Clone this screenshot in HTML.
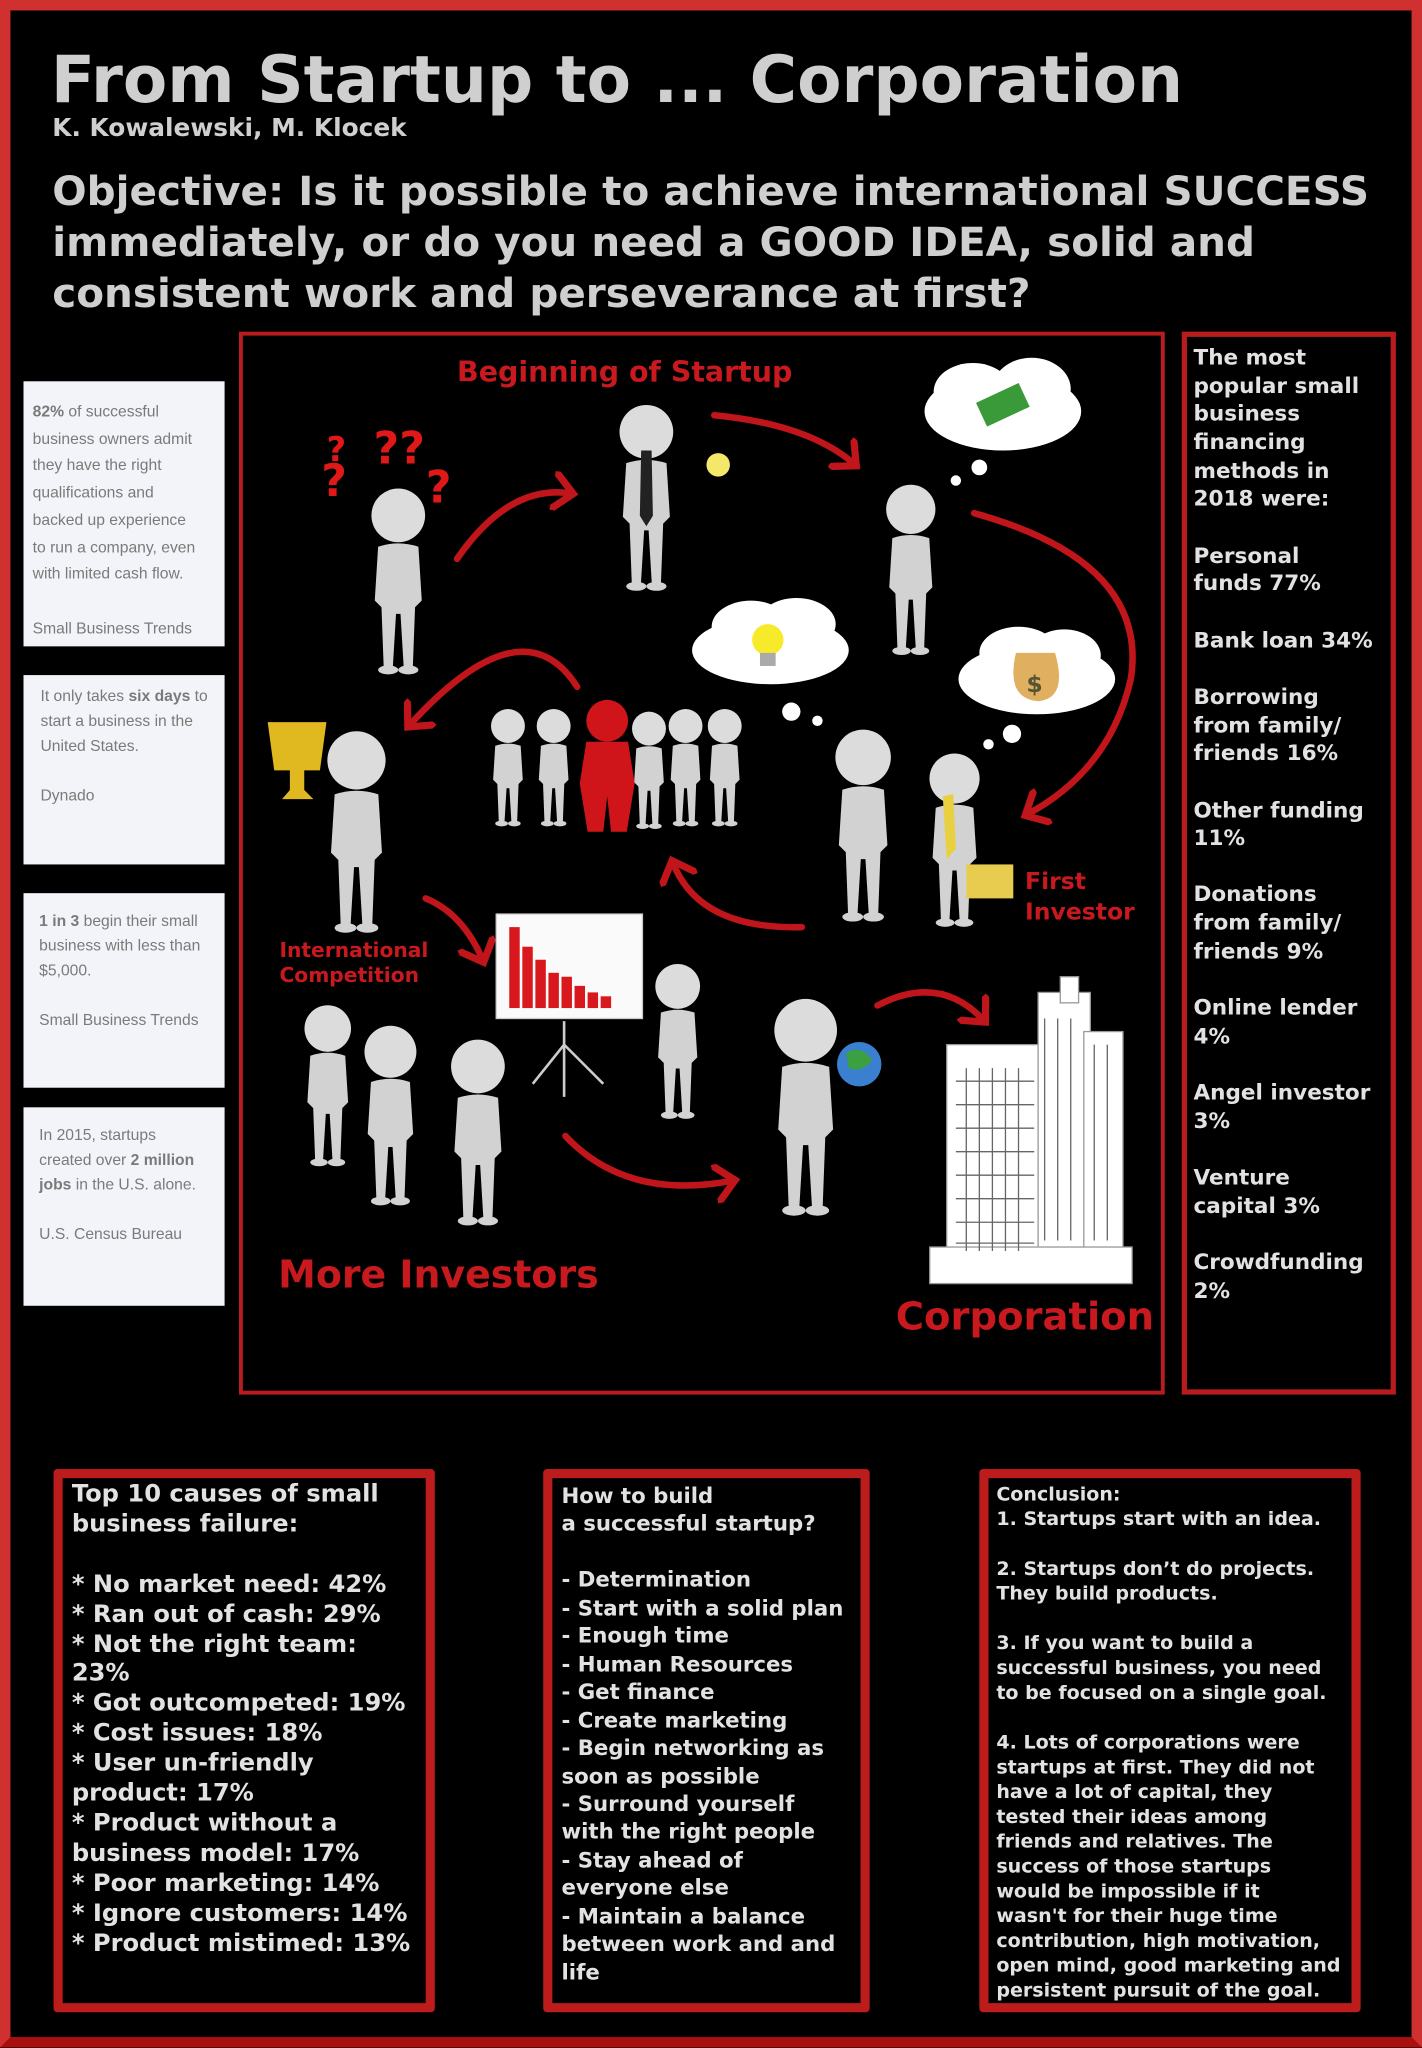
<!DOCTYPE html>
<html><head><meta charset="utf-8"><style>
html,body{margin:0;padding:0;background:#000;}
#w{position:absolute;left:0;top:0;width:1089px;height:1568px;transform:scale(1.30579);transform-origin:0 0;background:#000;overflow:hidden;font-family:"DejaVu Sans","Liberation Sans",sans-serif;}
.a{position:absolute;white-space:pre;}
.bx{position:absolute;box-sizing:border-box;}
.b{font-weight:bold;color:#e2e2e2;}
.card{position:absolute;background:#f3f4f9;}
.card div{position:absolute;white-space:pre;font-family:"Liberation Sans",sans-serif;font-size:12px;color:#7a7a7a;}
</style></head><body><div id="w">
<div class="bx" style="left:0;top:0;width:1089px;height:1568px;border:8px solid #d03030;border-bottom-color:#a80f0f"></div>

<div class="a b" style="left:39px;top:32px;font-size:49.5px;color:#cfcfcf">From Startup to ... Corporation</div>
<div class="a b" style="left:40px;top:87px;font-size:19px;color:#cfcfcf">K. Kowalewski, M. Klocek</div>
<div class="a b" style="left:40px;top:128px;font-size:31px;line-height:39px;color:#cfcfcf">Objective: Is it possible to achieve international SUCCESS
immediately, or do you need a GOOD IDEA, solid and
consistent work and perseverance at first?</div>

<!-- cards -->
<div class="card" style="left:18px;top:292px;width:154px;height:203px">
<div style="left:7px;top:13px;line-height:20.7px"><b>82%</b> of successful
business owners admit
they have the right
qualifications and
backed up experience
to run a company, even
with limited cash flow.

Small Business Trends</div></div>
<div class="card" style="left:18px;top:517px;width:154px;height:145px">
<div style="left:13px;top:7px;line-height:19px">It only takes <b>six days</b> to
start a business in the
United States.

Dynado</div></div>
<div class="card" style="left:18px;top:684px;width:154px;height:149px">
<div style="left:12px;top:12px;line-height:19px"><b>1 in 3</b> begin their small
business with less than
$5,000.

Small Business Trends</div></div>
<div class="card" style="left:18px;top:848px;width:154px;height:152px">
<div style="left:12px;top:12px;line-height:19px">In 2015, startups
created over <b>2 million</b>
<b>jobs</b> in the U.S. alone.

U.S. Census Bureau</div></div>

<!-- diagram -->
<div class="bx" style="left:183px;top:254px;width:709px;height:814px;border:3px solid #b81c1c"></div>
<svg class="a" style="left:0;top:0" width="1089" height="1568" viewBox="0 0 1089 1568">
<defs>
<symbol id="p" viewBox="0 0 70 170" overflow="visible">
<circle cx="35" cy="24" r="24" fill="#dcdcdc"/>
<path d="M17 52 Q35 46 53 52 L56 100 L50 106 L48 160 L40 162 L37 112 L33 112 L30 162 L22 160 L20 106 L14 100 Z" fill="#d2d2d2"/>
<ellipse cx="26" cy="162" rx="9" ry="4" fill="#d2d2d2"/><ellipse cx="44" cy="162" rx="9" ry="4" fill="#d2d2d2"/>
</symbol>
<marker id="ah" markerWidth="6" markerHeight="6" refX="3" refY="3" orient="auto" markerUnits="strokeWidth"><path d="M0,0 L3.2,3 L0,6" fill="none" stroke="#c0151b" stroke-width="1.1"/></marker>
</defs>
<g fill="none" stroke="#c0151b" stroke-width="5" stroke-linecap="round">
<path d="M350 428 Q390 370 438 378" marker-end="url(#ah)"/>
<path d="M547 318 Q620 325 655 356" marker-end="url(#ah)"/>
<path d="M746 393 Q880 430 866 520 Q850 590 786 624" marker-end="url(#ah)"/>
<path d="M614 710 Q535 712 515 660" marker-end="url(#ah)"/>
<path d="M442 526 Q400 460 313 556" marker-end="url(#ah)"/>
<path d="M326 688 Q355 700 370 736" marker-end="url(#ah)"/>
<path d="M433 870 Q480 920 562 904" marker-end="url(#ah)"/>
<path d="M672 770 Q720 745 754 782" marker-end="url(#ah)"/>
</g>
<g font-family="DejaVu Sans" font-weight="bold" fill="#e01818" font-size="34"><text x="246" y="380">?</text><text x="286" y="355">??</text><text x="326" y="385">?</text><text x="250" y="353" font-size="26">?</text></g>
<use href="#p" x="275" y="372" width="60" height="150"/>
<use href="#p" x="465" y="298" width="60" height="170"/>
<path d="M491 345 L499 345 L500 395 L495 403 L490 395 Z" fill="#222"/>
<circle cx="550" cy="356" r="9" fill="#f5e76a"/>
<use href="#p" x="670" y="363" width="55" height="150"/>
<g fill="#fff"><ellipse cx="768" cy="315" rx="60" ry="30"/><ellipse cx="745" cy="300" rx="30" ry="22"/><ellipse cx="790" cy="298" rx="30" ry="24"/><circle cx="750" cy="358" r="6"/><circle cx="732" cy="368" r="4"/>
<ellipse cx="590" cy="498" rx="60" ry="26"/><ellipse cx="575" cy="480" rx="30" ry="20"/><ellipse cx="610" cy="478" rx="30" ry="20"/><circle cx="606" cy="545" r="7"/><circle cx="626" cy="552" r="4"/>
<ellipse cx="794" cy="520" rx="60" ry="27"/><ellipse cx="780" cy="500" rx="30" ry="20"/><ellipse cx="815" cy="502" rx="28" ry="20"/><circle cx="775" cy="562" r="7"/><circle cx="757" cy="570" r="4"/></g>
<rect x="750" y="300" width="36" height="20" fill="#3a9a3a" transform="rotate(-25 768 310)"/>
<circle cx="588" cy="490" r="12" fill="#f7ea2a"/><rect x="582" y="500" width="12" height="10" fill="#aaa"/>
<path d="M778 500 Q770 535 795 537 Q818 535 808 500 Z" fill="#e0b060"/><text x="786" y="530" font-family="DejaVu Sans" font-size="18" font-weight="bold" fill="#553">$</text>
<use href="#p" x="370" y="543" width="38" height="92"/><use href="#p" x="405" y="543" width="38" height="92"/>
<use href="#p" x="478" y="545" width="38" height="92"/><use href="#p" x="506" y="543" width="38" height="92"/><use href="#p" x="536" y="543" width="38" height="92"/>
<g fill="#d0151a"><circle cx="465" cy="552" r="16"/><path d="M449 568 L481 568 L486 600 L480 637 L468 637 L465 610 L462 637 L450 637 L444 600 Z"/></g>
<use href="#p" x="630" y="548" width="62" height="172"/><use href="#p" x="703" y="570" width="56" height="150"/>
<path d="M722 610 L730 608 L732 650 L725 658 Z" fill="#e8d040"/>
<rect x="740" y="662" width="36" height="26" fill="#e8cc50"/>
<use href="#p" x="240" y="560" width="66" height="158"/>
<path d="M205 553 L250 553 L245 590 L210 590 Z M222 590 L233 590 L233 605 L240 612 L216 612 L222 605 Z" fill="#e0b820"/>
<use href="#p" x="225" y="758" width="52" height="150"/><use href="#p" x="270" y="775" width="58" height="162"/><use href="#p" x="336" y="788" width="60" height="162"/>
<rect x="380" y="700" width="112" height="80" fill="#fafafa" stroke="#ccc"/>
<g fill="#d8181c"><rect x="390" y="710" width="8" height="62"/><rect x="400" y="725" width="8" height="47"/><rect x="410" y="735" width="8" height="37"/><rect x="420" y="745" width="8" height="27"/><rect x="430" y="748" width="8" height="24"/><rect x="440" y="755" width="8" height="17"/><rect x="450" y="760" width="8" height="12"/><rect x="460" y="763" width="8" height="9"/></g>
<path d="M432 782 L432 840 M432 800 L408 830 M432 800 L462 830" stroke="#ccc" stroke-width="2"/>
<use href="#p" x="494" y="738" width="50" height="122"/>
<use href="#p" x="582" y="760" width="70" height="180"/>
<circle cx="658" cy="815" r="17" fill="#3a7fd0"/><path d="M648 806 Q660 800 668 812 Q660 822 650 818Z" fill="#3aa040"/>
<g fill="#fff" stroke="#999" stroke-width="1"><rect x="725" y="800" width="75" height="160"/><rect x="795" y="760" width="40" height="200"/><rect x="830" y="790" width="30" height="170"/><rect x="812" y="748" width="14" height="20"/><rect x="712" y="955" width="155" height="28"/></g>
<g fill="none" stroke="#666" stroke-width="1">
<path d="M732 828h60M732 846h60M732 864h60M732 882h60M732 900h60M732 918h60M732 936h60M732 952h60"/>
<path d="M740 818v140M750 818v140M760 818v140M770 818v140M780 818v140"/>
<path d="M800 780v170M810 780v170M820 780v170M838 800v150M848 800v150"/>
</g>
</svg>
<div class="a b" style="left:350px;top:273px;font-size:21.8px;color:#c8191e">Beginning of Startup</div>
<div class="a b" style="left:785px;top:664px;font-size:18px;line-height:23px;color:#c8191e">First
Investor</div>
<div class="a b" style="left:214px;top:719px;font-size:15.5px;line-height:19px;color:#c8191e">International
Competition</div>
<div class="a b" style="left:213px;top:959px;font-size:29px;color:#c8191e">More Investors</div>
<div class="a b" style="left:686px;top:991px;font-size:29.5px;color:#c8191e">Corporation</div>

<div class="bx" style="left:905px;top:254px;width:164px;height:814px;border:4px solid #b81c1c"></div>
<div class="a b" style="left:914px;top:263px;font-size:16.5px;line-height:21.65px">The most
popular small
business
financing
methods in
2018 were:

Personal
funds 77%

Bank loan 34%

Borrowing
from family/
friends 16%

Other funding
11%

Donations
from family/
friends 9%

Online lender
4%

Angel investor
3%

Venture
capital 3%

Crowdfunding
2%</div>

<div class="bx" style="left:41px;top:1125px;width:292px;height:416px;border:7px solid #bd1c1c;border-radius:3px"></div>
<div class="a b" style="left:55px;top:1134px;font-size:18.5px;line-height:22.9px">Top 10 causes of small
business failure:

* No market need: 42%
* Ran out of cash: 29%
* Not the right team:
23%
* Got outcompeted: 19%
* Cost issues: 18%
* User un-friendly
product: 17%
* Product without a
business model: 17%
* Poor marketing: 14%
* Ignore customers: 14%
* Product mistimed: 13%</div>
<div class="bx" style="left:416px;top:1125px;width:250px;height:416px;border:7px solid #bd1c1c;border-radius:3px"></div>
<div class="a b" style="left:430px;top:1135px;font-size:16.3px;line-height:21.45px">How to build
a successful startup?

- Determination
- Start with a solid plan
- Enough time
- Human Resources
- Get finance
- Create marketing
- Begin networking as
soon as possible
- Surround yourself
with the right people
- Stay ahead of
everyone else
- Maintain a balance
between work and and
life</div>
<div class="bx" style="left:750px;top:1125px;width:292px;height:416px;border:7px solid #bd1c1c;border-radius:3px"></div>
<div class="a b" style="left:763px;top:1135px;font-size:14.6px;line-height:19px">Conclusion:
1. Startups start with an idea.

2. Startups don’t do projects.
They build products.

3. If you want to build a
successful business, you need
to be focused on a single goal.

4. Lots of corporations were
startups at first. They did not
have a lot of capital, they
tested their ideas among
friends and relatives. The
success of those startups
would be impossible if it
wasn't for their huge time
contribution, high motivation,
open mind, good marketing and
persistent pursuit of the goal.</div>
</div></body></html>
